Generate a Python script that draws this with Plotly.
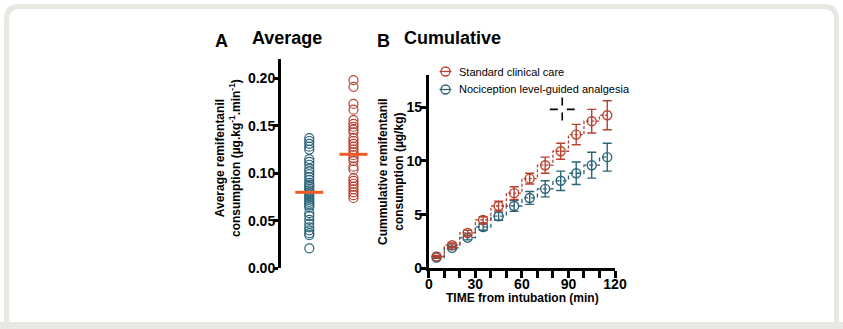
import plotly.graph_objects as go

# ---------------- data ----------------
groups_a = ["Nociception level-guided analgesia", "Standard clinical care"]
blue_avg = [0.137, 0.134, 0.131, 0.128, 0.125, 0.115, 0.112, 0.109, 0.105, 0.102,
            0.099, 0.096, 0.093, 0.090, 0.088, 0.086, 0.084, 0.082, 0.080, 0.078,
            0.076, 0.074, 0.072, 0.070, 0.068, 0.066, 0.064, 0.058, 0.055, 0.051,
            0.047, 0.043, 0.040, 0.037, 0.035, 0.021]
red_avg = [0.198, 0.191, 0.173, 0.167, 0.156, 0.152, 0.149, 0.146, 0.143, 0.137,
           0.134, 0.131, 0.128, 0.125, 0.122, 0.119, 0.116, 0.113, 0.107, 0.104,
           0.095, 0.092, 0.089, 0.086, 0.083, 0.080, 0.077, 0.074]
medians = [0.08, 0.12]

time_min = [5, 15, 25, 35, 45, 55, 65, 75, 85, 95, 105, 115]
red_cum = [1.1, 2.15, 3.3, 4.5, 5.8, 7.0, 8.35, 9.6, 10.9, 12.45, 13.7, 14.25]
red_err = [0.1, 0.2, 0.25, 0.3, 0.45, 0.6, 0.5, 0.75, 0.75, 0.95, 1.1, 1.35]
blue_cum = [1.0, 1.9, 2.85, 3.85, 4.85, 5.8, 6.55, 7.4, 8.15, 8.85, 9.6, 10.35]
blue_err = [0.08, 0.15, 0.2, 0.3, 0.38, 0.5, 0.6, 0.75, 0.9, 1.05, 1.2, 1.3]

a_ticks = [0.0, 0.05, 0.10, 0.15, 0.20]
a_ticktext = ["0.00", "0.05", "0.10", "0.15", "0.20"]
b_yticks = [0, 5, 10, 15]
b_xticks = [0, 30, 60, 90, 120]
b_xminor = [10, 20, 40, 50, 70, 80, 100, 110]

cross_x, cross_y = 86, 14.8  # dashed cross marker

# ---------------- style ----------------
W, H = 843, 329
RED = "#b9402f"
BLUE = "#2b6479"
ORANGE = "#f05a24"
BAND = "#e9e7e1"
FONT = "Liberation Sans, Arial, sans-serif"


def px(x):
    return x / W


def py(y):
    return 1 - y / H


fig = go.Figure()

# Panel A
fig.add_trace(go.Scatter(
    x=[0] * len(blue_avg), y=blue_avg, mode="markers", xaxis="x", yaxis="y",
    marker=dict(symbol="circle-open", size=9, color=BLUE, line=dict(width=1.2, color=BLUE)),
    showlegend=False, cliponaxis=False))
fig.add_trace(go.Scatter(
    x=[1] * len(red_avg), y=red_avg, mode="markers", xaxis="x", yaxis="y",
    marker=dict(symbol="circle-open", size=9, color=RED, line=dict(width=1.2, color=RED)),
    showlegend=False, cliponaxis=False))
fig.add_trace(go.Scatter(
    x=[0, 1], y=medians, mode="markers", xaxis="x", yaxis="y",
    marker=dict(symbol="line-ew-open", size=20, color=ORANGE, line=dict(width=3, color=ORANGE)),
    showlegend=False, cliponaxis=False))

# Panel B
fig.add_trace(go.Scatter(
    x=time_min, y=blue_cum, mode="lines+markers", xaxis="x2", yaxis="y2",
    line=dict(shape="hvh", dash="4px,3px", width=1.3, color=BLUE),
    marker=dict(symbol="circle-open", size=9, color=BLUE, line=dict(width=1.4, color=BLUE)),
    error_y=dict(type="data", array=blue_err, color=BLUE, thickness=1.4, width=4.5),
    showlegend=False, cliponaxis=False))
fig.add_trace(go.Scatter(
    x=time_min, y=red_cum, mode="lines+markers", xaxis="x2", yaxis="y2",
    line=dict(shape="hvh", dash="3px,2px", width=1.3, color=RED),
    marker=dict(symbol="circle-open", size=9, color=RED, line=dict(width=1.4, color=RED)),
    error_y=dict(type="data", array=red_err, color=RED, thickness=1.4, width=4.5),
    showlegend=False, cliponaxis=False))

axis_common = dict(showgrid=False, zeroline=False, showline=True, linecolor="black",
                   linewidth=3, ticks="outside", tickcolor="black", tickwidth=2.5,
                   automargin=False, tickangle=0,
                   tickfont=dict(family=FONT, size=14, color="black"))

shapes = []
# card border
card_path = (f"M {px(6.5)},{py(330)} L {px(6.5)},{py(19)} Q {px(6.5)},{py(6.5)} {px(19)},{py(6.5)} "
             f"L {px(824)},{py(6.5)} Q {px(836.5)},{py(6.5)} {px(836.5)},{py(19)} L {px(836.5)},{py(330)}")
shapes.append(dict(type="path", xref="paper", yref="paper", path=card_path,
                   line=dict(color=BAND, width=5), layer="below"))
shapes.append(dict(type="rect", xref="paper", yref="paper", x0=px(0), x1=px(843),
                   y0=py(329), y1=py(322), fillcolor=BAND, line=dict(width=0), layer="below"))

# dashed cross
shapes.append(dict(type="line", xref="x2", yref="y2", x0=cross_x - 8, x1=cross_x + 8,
                   y0=cross_y, y1=cross_y, line=dict(color="black", width=1.6, dash="8px,9px")))
shapes.append(dict(type="line", xref="x2", yref="y2", x0=cross_x, x1=cross_x,
                   y0=cross_y + 1.1, y1=cross_y - 1.1, line=dict(color="black", width=1.6, dash="8px,7px")))

# legend glyphs
legend_rows = [("Standard clinical care", RED, 71.5), ("Nociception level-guided analgesia", BLUE, 89.5)]
annotations = []
for label, col, yy in legend_rows:
    shapes.append(dict(type="circle", xref="paper", yref="paper", xsizemode="pixel", ysizemode="pixel",
                       xanchor=px(445.5), yanchor=py(yy), x0=-4.5, x1=4.5, y0=-4.5, y1=4.5,
                       line=dict(color=col, width=1.3)))
    shapes.append(dict(type="line", xref="paper", yref="paper", xsizemode="pixel", ysizemode="pixel",
                       xanchor=px(445.5), yanchor=py(yy), x0=-6, x1=6, y0=0, y1=0,
                       line=dict(color=col, width=1.3)))
    annotations.append(dict(text=label, xref="paper", yref="paper", x=px(456.5), y=py(yy),
                            xanchor="left", yanchor="middle", showarrow=False,
                            font=dict(family=FONT, size=11, color="black")))

title_font = dict(family=FONT, size=18, color="black")
for txt, x, y in [("<b>A</b>", 221, 41), ("<b>Average</b>", 287, 38),
                  ("<b>B</b>", 383.5, 41), ("<b>Cumulative</b>", 452, 38)]:
    annotations.append(dict(text=txt, xref="paper", yref="paper", x=px(x), y=py(y),
                            xanchor="center", yanchor="middle", showarrow=False, font=title_font))

lab_font = dict(family=FONT, size=12, color="black")
annotations.append(dict(text="<b>Average remifentanil<br>consumption (µg.kg<sup>-1</sup>.min<sup>-1</sup>)</b>",
                        xref="paper", yref="paper", x=px(228), y=py(158), textangle=-90,
                        xanchor="center", yanchor="middle", showarrow=False, font=lab_font))
annotations.append(dict(text="<b>Cummulative remifentanil<br>consumption (µg/kg)</b>",
                        xref="paper", yref="paper", x=px(391), y=py(172), textangle=-90,
                        xanchor="center", yanchor="middle", showarrow=False, font=lab_font))
annotations.append(dict(text="<b>TIME from intubation (min)</b>",
                        xref="paper", yref="paper", x=px(522), y=py(298),
                        xanchor="center", yanchor="middle", showarrow=False, font=lab_font))

fig.update_layout(
    width=W, height=H, autosize=False, margin=dict(l=0, r=0, t=0, b=0, pad=0),
    paper_bgcolor="white", plot_bgcolor="white",
    font=dict(family=FONT, color="black"),
    xaxis=dict(domain=[px(281), px(380)], range=[-0.64, 1.6], visible=False, automargin=False),
    yaxis=dict(domain=[py(268.3), py(59.3)], range=[0, 0.22], tickvals=a_ticks,
               ticktext=[f"<b>{t}</b>" for t in a_ticktext], ticklen=5, anchor="x",
               ticklabelstandoff=-5, **axis_common),
    xaxis2=dict(domain=[px(428.8), px(615)], range=[0, 120], tickvals=b_xticks,
                ticktext=[f"<b>{t}</b>" for t in b_xticks], ticklen=7, anchor="y2",
                ticklabelstandoff=-6,
                minor=dict(tickvals=b_xminor, ticks="outside", ticklen=7, tickwidth=2.5,
                           tickcolor="black", showgrid=False),
                **axis_common),
    yaxis2=dict(domain=[py(268.3), py(75)], range=[0, 18], tickvals=b_yticks,
                ticktext=[f"<b>{t}</b>" for t in b_yticks], ticklen=6, anchor="x2",
                ticklabelstandoff=-5, **axis_common),
    shapes=shapes, annotations=annotations, showlegend=False,
)

fig.write_html("out.html")
